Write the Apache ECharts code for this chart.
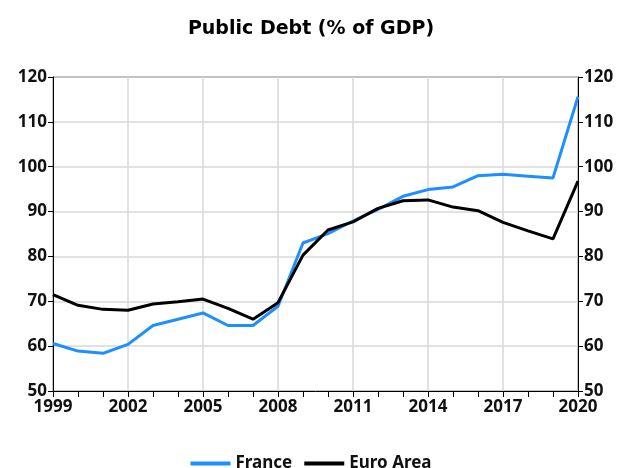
<!DOCTYPE html>
<html>
<head>
<meta charset="utf-8">
<script src="https://cdn.jsdelivr.net/npm/echarts@6/dist/echarts.min.js"></script>
<style>
  html, body { margin: 0; padding: 0; background: #fff; }
  #main { width: 622px; height: 468px; }
</style>
</head>
<body>
<div id="main"></div>
<script>
var years = ['1999', '2000', '2001', '2002', '2003', '2004', '2005', '2006', '2007', '2008', '2009',
  '2010', '2011', '2012', '2013', '2014', '2015', '2016', '2017', '2018', '2019', '2020']
var france = [60.6, 58.9, 58.4, 60.4, 64.6, 66.0, 67.4, 64.6, 64.6, 68.9, 83.0,
  85.1, 87.9, 90.5, 93.4, 94.9, 95.5, 98.0, 98.3, 97.9, 97.5, 115.6]
var euroArea = [71.5, 69.1, 68.2, 68.0, 69.4, 69.9, 70.5, 68.4, 66.0, 69.7, 80.3,
  85.9, 87.7, 90.7, 92.4, 92.6, 91.0, 90.2, 87.6, 85.7, 83.9, 96.8]

function main() {
  var myChart = echarts.init(document.getElementById('main'))
  var labelFont = { color: '#111', fontSize: 17, fontWeight: 'bold', fontFamily: 'Noto Sans' }
  var yAxisBase = function (pos) {
    return {
      type: 'value',
      position: pos,
      min: 50,
      max: 120,
      interval: 10,
      axisLine: { show: true, lineStyle: { color: '#000', width: 1 } },
      axisTick: { show: true, length: 5, lineStyle: { color: '#000' } },
      axisLabel: Object.assign({ margin: 6 }, labelFont),
      splitLine: { show: pos === 'left', lineStyle: { color: '#d9d9d9', width: 1.5 } }
    }
  }
  var option = {
    animation: false,
    title: {
      text: 'Public Debt (% of GDP)',
      left: 'center',
      top: 15,
      textStyle: { fontSize: 19, fontWeight: 900, color: '#000', fontFamily: 'DejaVu Sans' }
    },
    legend: {
      top: 450,
      left: 'center',
      icon: 'rect',
      itemWidth: 40,
      itemHeight: 4,
      itemGap: 12,
      textStyle: { fontSize: 17, fontWeight: 'bold', color: '#111', fontFamily: 'Noto Sans' },
      data: ['France', 'Euro Area']
    },
    grid: {
      left: 53,
      right: 44,
      top: 77,
      bottom: 77,
      show: true,
      borderColor: '#000',
      borderWidth: 1
    },
    xAxis: {
      type: 'category',
      data: years,
      boundaryGap: false,
      axisLine: { lineStyle: { color: '#000' } },
      axisTick: { interval: 0, length: 6, lineStyle: { color: '#000' } },
      axisLabel: Object.assign({ interval: 2, margin: 8 }, labelFont),
      splitLine: { show: true, interval: 2, lineStyle: { color: '#d9d9d9', width: 1.5 } }
    },
    yAxis: [yAxisBase('left'), yAxisBase('right')],
    series: [
      {
        name: 'France',
        type: 'line',
        data: france,
        symbol: 'none',
        itemStyle: { color: '#1e8fff' },
        lineStyle: { color: '#1e8fff', width: 3 }
      },
      {
        name: 'Euro Area',
        type: 'line',
        data: euroArea,
        symbol: 'none',
        itemStyle: { color: '#000' },
        lineStyle: { color: '#000', width: 3 }
      }
    ]
  }
  myChart.setOption(option)
}

window.onload = main
</script>
</body>
</html>
